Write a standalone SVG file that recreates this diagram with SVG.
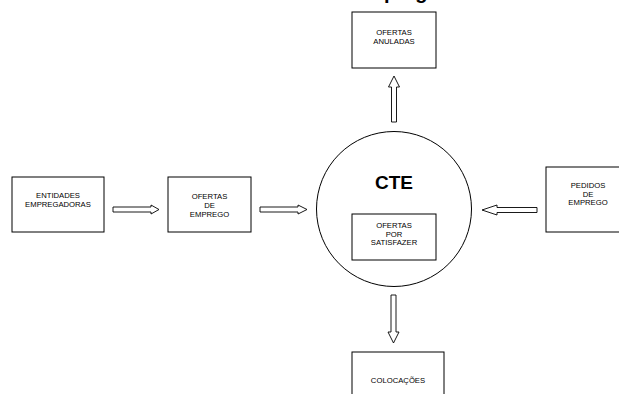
<svg xmlns="http://www.w3.org/2000/svg" width="619" height="394" viewBox="0 0 619 394">
<style>
.box{fill:#fff;stroke:#000;stroke-width:1}
.arr{fill:#fff;stroke:#000;stroke-width:0.9;stroke-linejoin:miter}
.t{font-family:"Liberation Sans",Arial,sans-serif;font-size:7.7px;fill:#000;text-anchor:middle}
.big{font-family:"Liberation Sans",Arial,sans-serif;font-weight:bold;fill:#000}
</style>
<rect width="619" height="394" fill="#fff"/>
<text class="big" x="353" y="-1" font-size="20">Emprego</text>
<g id="connectors">
<polygon class="arr" points="113,207 151,207 151,205 159,209.5 151,214 151,212 113,212"/>
<polygon class="arr" points="260,207 298,207 298,205 307,209.5 298,214 298,212 260,212"/>
<polygon class="arr" points="537,207.5 497,207.5 497,205 482,210 497,215 497,212.5 537,212.5"/>
<polygon class="arr" points="391.5,122 391.5,87 388.5,87 394,76 399.5,87 396.5,87 396.5,122"/>
<polygon class="arr" points="391,295 391,332 388,332 393.5,343 399,332 396,332 396,295"/>
</g>
<g id="entidades">
<rect class="box" x="12" y="177" width="92" height="55"/>
<text class="t" x="58" y="197.5">ENTIDADES</text>
<text class="t" x="58" y="206.5">EMPREGADORAS</text>
</g>
<g id="ofertas-emprego">
<rect class="box" x="168" y="177" width="83" height="55"/>
<text class="t" x="209.5" y="199">OFERTAS</text>
<text class="t" x="209.5" y="208">DE</text>
<text class="t" x="209.5" y="217">EMPREGO</text>
</g>
<g id="cte">
<circle class="box" cx="394" cy="209" r="77.5"/>
<text class="big" x="394" y="189.3" font-size="19" text-anchor="middle">CTE</text>
</g>
<g id="ofertas-satisfazer">
<rect class="box" x="352" y="214" width="84" height="46"/>
<text class="t" x="394" y="228">OFERTAS</text>
<text class="t" x="394" y="236.5">POR</text>
<text class="t" x="394" y="245">SATISFAZER</text>
</g>
<g id="ofertas-anuladas">
<rect class="box" x="352" y="12" width="84" height="56"/>
<text class="t" x="394" y="35">OFERTAS</text>
<text class="t" x="394" y="43.5">ANULADAS</text>
</g>
<g id="pedidos">
<rect class="box" x="546" y="167" width="84" height="65"/>
<text class="t" x="588" y="188">PEDIDOS</text>
<text class="t" x="588" y="196.5">DE</text>
<text class="t" x="588" y="205">EMPREGO</text>
</g>
<g id="colocacoes">
<rect class="box" x="352" y="352" width="92" height="60"/>
<text class="t" x="398" y="383">COLOCAÇÕES</text>
</g>
</svg>
